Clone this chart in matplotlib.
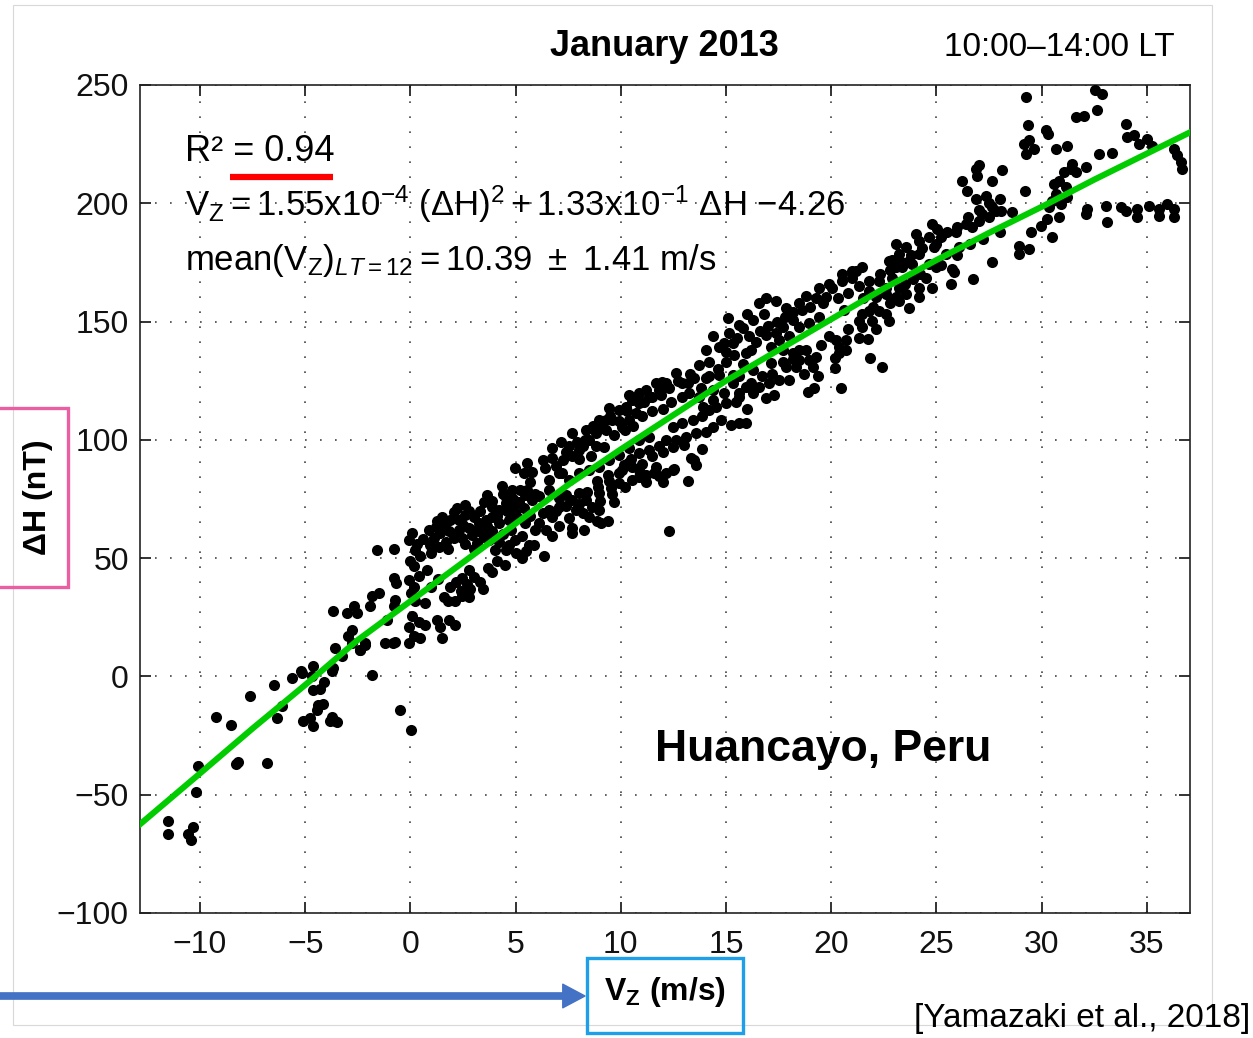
import numpy as np
import matplotlib
matplotlib.use("Agg")
import matplotlib.pyplot as plt
from matplotlib.patches import Rectangle, FancyArrowPatch

plt.rcParams['font.family'] = ['Liberation Sans', 'DejaVu Sans']
plt.rcParams['mathtext.fontset'] = 'custom'
plt.rcParams['mathtext.rm'] = 'Liberation Sans'
plt.rcParams['mathtext.it'] = 'Liberation Sans:italic'
plt.rcParams['mathtext.bf'] = 'Liberation Sans:bold'

# ---- data: (Vz [m/s], dH [nT]) ----
pts_low = [(-11.51, -61), (-11.51, -66.6), (-10.35, -63.7), (-10.55, -66.6), (-10.44, -69),
           (-10.17, -49), (-10.08, -38), (-9.22, -17.3), (-8.54, -20.6), (-8.29, -36.9),
           (-8.18, -36.3), (-6.83, -36.5), (-7.61, -8.2), (-6.48, -3.5), (-6.12, -12.3),
           (-6.34, -17.5), (-5.64, -0.8), (-5.21, 2.1), (-5.13, 1.4), (-4.61, 4.2),
           (-4.69, 0.3), (-4.12, -2.4), (-4.29, -5.4), (-4.61, -5.9), (-4.37, -12),
           (-4.14, -11.5), (-4.45, -14.1), (-5.09, -18.7), (-4.77, -17.6), (-4.61, -20.8),
           (-3.82, -19), (-3.58, -19), (-3.74, -17.2), (-3.47, -19.4), (-1.84, 0.8),
           (-3.74, 2.1), (-3.66, 3.5), (-3.26, 8.5), (-3.58, 12), (-2.39, 11),
           (-2.16, 13.4), (-2.79, 14.1), (-0.81, 14.1), (-0.49, -14.1), (0.02, -22.8),
           (-3.66, 27.5), (-3.03, 27), (-2.66, 29.6), (-2.55, 26.8), (-2.79, 19.7),
           (-2.95, 16.9)]

pts_0_6 = [(-1.58, 53.5), (-0.79, 54), (-0.08, 57.7), (0.08, 60.6), (0.24, 53.5), (0.48, 51),
           (0, 49), (0.16, 46.5), (-0.79, 41.5), (-0.68, 39.4), (-0.08, 40.8), (0.16, 38),
           (0.05, 35.2), (0.4, 42.3), (0.79, 45), (-1.82, 34), (-1.9, 29.6), (-1.5, 35.2),
           (-0.71, 32.4), (-0.79, 29.6), (0.71, 31), (1.58, 33.5), (1.79, 31.7), (2.14, 31.7),
           (2.46, 33.8), (2.77, 33.5), (2.17, 40.1), (2.46, 41.5), (2.69, 39.2), (2.85, 36.9),
           (3.44, 36.9), (3.69, 45.8), (0.08, 25.4), (0.4, 22.8), (0.71, 21.8), (-0.08, 21.1),
           (0.16, 16.9), (0.48, 16.2), (-0.08, 14.1), (-0.71, 14.4), (-1.19, 14.1), (-2.14, 14.1),
           (-2.38, 11.3), (1.27, 23.7), (1.43, 21.1), (1.82, 23.9), (2.14, 21.8), (1.5, 16.2),
           (1.27, 65.5), (1.5, 67.6), (2.06, 69.7), (2.3, 66.2), (2.61, 68.3), (3.01, 67.6),
           (3.25, 64.8), (2.77, 62.7), (2.3, 62), (1.82, 61.3), (1.43, 60.6), (1.11, 58.5),
           (0.95, 55.6), (1.35, 54.9), (1.7, 57), (2.06, 58.5), (2.46, 58.5), (2.93, 59.9),
           (3.41, 60.6), (3.65, 63.4), (3.88, 67.6), (4.2, 70.4), (4.52, 73.2), (4.87, 71.5),
           (5.15, 73.9), (5.47, 76.8), (5.78, 74.6), (5.39, 85.9), (5.78, 86.6), (4.36, 80.3),
           (4.83, 78.6), (4.52, 75.8), (3.88, 71.8), (3.49, 73.9), (3.65, 76.8), (2.61, 72.5),
           (5.55, 78.9), (4.99, 69), (4.68, 66.2), (4.2, 64.8), (3.88, 61.3), (3.17, 56.3),
           (3.72, 57.7), (4.2, 57), (4.68, 55.6), (4.99, 57.7), (5.31, 59.2), (5.63, 55.6),
           (5.86, 55.6), (5.31, 50), (4.52, 53.5), (4.04, 53.5), (5.94, 62), (5.47, 64.8),
           (5.52, 90.1), (4.97, 88),
           (0.3, 56), (0.6, 58), (0.9, 62), (1.0, 52), (1.2, 63), (1.6, 64), (1.9, 66), (2.2, 71),
           (2.5, 64), (2.8, 70), (3.1, 62), (3.3, 70), (3.6, 66), (3.9, 74), (4.1, 68), (4.4, 77),
           (4.6, 70), (4.9, 75), (5.2, 79), (5.4, 71), (5.7, 82), (5.9, 77), (1.8, 54), (2.6, 56),
           (3.0, 54), (3.5, 59), (4.4, 60), (4.8, 62), (5.1, 67), (5.7, 68),
           (1.0, 38), (1.3, 41), (1.9, 38), (2.4, 36), (3.0, 42), (3.3, 40), (3.9, 44), (4.1, 49),
           (4.5, 47), (5.0, 52), (5.5, 53), (2.8, 45), (0.2, 32), (-1.1, 24)]

pts_6_14 = [(6.35, 50.7), (12.3, 61.5), (13.2, 82.4), (13.33, 92.3), (13.49, 91.3), (13.57, 89.4),
            (13.84, 96.2), (12.54, 87.6), (12.14, 85.9), (11.82, 84.8), (11.58, 85.9), (11.19, 85.2),
            (10.87, 87.3), (10.55, 88.7), (10.16, 89.4), (9.92, 81.7), (9.52, 79.6), (8.97, 77.5),
            (9.68, 73.9), (8.89, 65.5), (9.37, 65.5), (9.05, 64.8), (8.26, 62), (7.7, 62.7),
            (7.07, 63.4), (6.43, 62), (7.54, 66.9), (8.18, 69), (8.65, 71.8), (6.75, 67.6),
            (6.59, 70.4), (7.07, 71.8), (6.28, 69), (7.7, 74.6), (8.34, 74.6), (8.02, 77.5),
            (7.39, 76.8), (8.89, 82.4), (9.45, 82.4), (10.08, 87.3), (10.32, 90.1), (10.87, 94.4),
            (11.35, 95.8), (11.82, 97.2), (12.14, 100), (12.62, 100), (13.09, 101.4), (13.57, 102.8),
            (14.04, 103.5), (14.36, 105.6), (14.75, 108.5), (15.23, 106.3), (15.63, 107), (15.94, 107),
            (12.46, 105.6), (12.93, 107), (13.41, 108.5), (13.88, 109.9), (14.2, 112.7), (14.52, 114.1),
            (14.99, 115.5), (15.47, 116.2), (15.63, 118.3), (16.26, 119.7), (15.94, 122.5), (15.31, 123.9),
            (14.36, 121.1), (13.72, 118.3), (13.25, 119.7), (12.93, 123.9), (12.62, 128.2), (12.14, 123.9),
            (11.82, 121.1), (11.35, 118.3), (10.87, 115.5), (10.71, 111.3), (10.4, 108.5), (10.08, 105.6),
            (6.28, 91.5), (6.75, 92.3), (7.23, 91.5), (7.7, 93), (8.18, 97.2), (8.5, 100),
            (8.81, 102.8), (9.29, 104.2), (9.6, 108.5), (9.92, 112.7), (10.24, 114.1), (10.55, 116.9),
            (10.87, 119.7), (11.19, 121.1), (11.66, 123.9), (11.98, 124.6), (7.7, 102.8), (7.15, 99.3),
            (6.75, 96.5), (8.97, 108.5), (9.45, 113.4), (10.4, 119), (9.29, 108.5), (8.34, 104.2),
            (8.81, 97.2), (8.02, 95.8), (7.54, 97.2), (6.59, 83.1), (7.07, 85.9), (8.02, 85.9),
            (7.54, 83.1), (8.5, 87.3), (8.97, 88.7), (9.45, 91.5), (9.92, 93.7), (10.4, 96.5),
            (10.87, 100), (11.35, 101.4), (10.55, 83.1), (10.87, 84.5), (11.66, 88.7), (12.46, 87.3),
            (6.12, 76.1), (6.59, 78.9), (7.07, 75.4), (7.86, 70.4), (8.5, 67.6), (8.97, 70.4),
            (6.12, 64.8), (6.75, 59.2), (7.7, 60.6),
            (6.4, 88), (6.9, 89), (7.4, 95), (7.9, 99), (8.3, 100), (8.7, 106), (9.1, 105), (9.5, 110),
            (9.9, 108), (10.3, 112), (10.7, 117), (11.1, 116), (11.5, 118), (11.9, 119), (12.3, 122),
            (12.7, 125), (7.2, 86), (8.0, 92), (8.6, 93), (9.2, 97), (9.7, 102), (10.2, 104),
            (10.6, 106), (11.0, 110), (11.5, 112), (12.0, 113), (12.4, 116), (12.9, 118), (13.2, 124),
            (13.5, 126), (6.9, 70), (7.4, 72), (8.0, 73), (8.4, 78), (8.9, 80), (9.4, 85), (9.9, 86),
            (10.5, 92), (11.0, 90), (11.5, 93), (12.0, 95), (12.5, 97), (13.0, 98), (9.0, 74),
            (9.6, 77), (10.2, 80), (11.2, 82), (12.0, 82)]

pts_14_20 = [(20.47, 121.8), (22.42, 131), (21.85, 134.5), (21.74, 142.5), (20.2, 130.3), (20.2, 134.5),
             (20.39, 136.6), (20.71, 138), (20.23, 142.3), (20.71, 142.3), (20.39, 139.4), (19.2, 121.8),
             (18.88, 120.4), (19.36, 126.8), (19.12, 131), (18.96, 133.8), (18.8, 138), (19.28, 135.2),
             (18.49, 133.8), (18.17, 136.6), (18.33, 131), (17.85, 131), (17.69, 138), (18.49, 138),
             (17.54, 125.4), (18.01, 125.4), (17.06, 124), (16.9, 117.6), (16.58, 122.5),
             (15.08, 151.4), (15.63, 148.6), (16.27, 150.7), (16.58, 157.7), (16.9, 159.9), (17.38, 158.5),
             (17.85, 155.6), (18.49, 157.7), (18.8, 160.6), (19.28, 159.9), (14.37, 143.7), (14.68, 139.4),
             (14.05, 138), (15.16, 145.1), (15.79, 147.2), (15.32, 140.8), (16.11, 143.7), (16.43, 141.5),
             (15.95, 136.6), (16.9, 144.4), (17.38, 145.1), (17.14, 139.4), (17.69, 147.9), (18.17, 150.7),
             (18.49, 147.9), (18.01, 143.7), (17.54, 142.3), (18.96, 149.3), (19.44, 152.1), (13.73, 131.7),
             (14.21, 133.1), (15, 133.1), (14.68, 127.5), (14.05, 126.1), (15.32, 127.5), (15.63, 126.8),
             (16.27, 129.6), (17.14, 132.4),
             (13.3, 128), (13.8, 122), (14.2, 127), (14.6, 130), (15.0, 137), (15.4, 136), (15.8, 132),
             (16.2, 138), (16.6, 146), (17.0, 148), (17.4, 150), (17.8, 152), (18.2, 154), (18.6, 155),
             (19.0, 156), (19.6, 158), (16.0, 153), (16.8, 153), (15.5, 143), (14.9, 141),
             (13.9, 114), (14.4, 117), (14.9, 120), (15.6, 120), (16.2, 124), (16.7, 127), (17.2, 128),
             (17.7, 133), (18.2, 134), (18.7, 128), (19.5, 140), (19.9, 144), (17.3, 119), (16.0, 113)]

pts_20_37 = [(29.27, 244.9), (29.35, 232.9), (29.16, 225.1), (29.4, 226.6), (29.24, 220.9), (29.64, 223),
             (30.19, 230.8), (30.32, 229.1), (30.7, 223), (31.22, 224.2), (31.62, 236.4), (32.01, 236.7),
             (32.54, 247.7), (32.88, 246), (32.61, 239.3), (34, 233.6), (34.07, 228), (34.39, 228.7),
             (34.63, 225.1), (35.02, 227.3), (35.26, 224.4), (32.73, 220.9), (33.33, 221.2), (36.29, 223),
             (36.45, 220.2), (36.61, 217.4), (36.69, 214.5), (32.09, 215.3), (31.46, 216.7), (31.38, 214.5),
             (31.62, 213.1), (31.06, 213.1), (30.82, 209.6), (30.59, 208.2), (31.14, 206.8), (31.22, 202.5),
             (30.9, 199.7), (30.51, 201.1), (30.67, 204), (30.35, 198.3), (30.82, 194.1), (30.27, 193.4),
             (29.95, 190.5), (30.51, 185.6), (29.48, 187.7), (29.4, 180.6), (28.92, 182), (28.92, 178.5),
             (29.19, 205.4), (32.17, 197.6), (32.09, 195.5), (33.04, 199), (33.12, 192), (33.76, 198.3),
             (33.99, 196.9), (34.55, 197.6), (34.55, 194.1), (35.1, 199), (35.58, 197.6), (35.58, 194.8),
             (35.98, 199.7), (36.29, 197.6), (36.29, 194.1), (26.23, 209.6), (26.47, 205.4), (26.86, 201.8),
             (27.34, 203.2), (26.94, 211.7), (27.02, 216), (26.86, 214.5), (27.65, 209.6), (28.1, 214.1),
             (24.8, 191.2), (25.04, 189.1), (25.28, 187), (25.91, 187.7), (26.39, 191.2), (26.7, 189.8),
             (27.02, 192.7), (27.18, 195.5), (27.5, 194.1), (27.81, 196.9), (28.05, 196.9), (27.65, 198.3),
             (28.61, 196.2), (27.65, 175), (26.75, 167.9), (25.67, 165.8), (25.83, 170.8), (25.75, 172.2),
             (26.07, 181.4), (25.44, 178.5), (24.88, 181.4), (25.2, 185.6), (24.64, 185.6), (24.17, 184.2),
             (24.01, 187), (24.64, 174.3), (24.96, 172.9), (24.48, 168.6), (24.8, 164.4), (24.17, 160.2),
             (23.69, 155.9), (23.22, 158.8), (24.17, 164.4), (23.06, 182.8), (23.22, 178.5), (23.53, 181.4),
             (23.69, 175.7), (23.38, 172.9), (23.85, 174.3), (24.17, 178.5), (23.06, 172.9), (22.74, 175.7),
             (22.9, 168.6), (23.22, 164.4), (22.58, 164.4), (22.27, 167.2), (21.79, 167.2), (21.47, 172.9),
             (21, 171.5), (20.52, 167.2), (20.05, 164.4), (19.73, 160.2), (21.47, 153.1), (21.79, 154.5),
             (22.11, 160.2), (22.58, 161.6), (21.32, 150.3), (21.95, 150.3), (22.27, 154.5), (22.74, 150.3),
             (23.06, 160.2), (23.53, 161.6), (21.47, 147.5), (22.11, 146.8), (22.58, 153.1), (19.41, 164.4),
             (19.89, 165.8), (20.52, 170.1), (21, 168.6), (21.16, 171.5),
             (20.3, 160), (20.8, 162), (21.3, 165), (21.8, 163), (22.3, 170), (22.8, 172), (23.3, 175),
             (23.8, 178), (24.3, 181), (25.0, 183), (25.5, 188), (26.0, 190), (26.5, 194), (27.0, 197),
             (27.5, 200), (28.0, 202), (20.6, 155), (21.5, 160), (22.9, 176),
             (20.8, 147), (21.3, 143), (22.0, 156), (22.8, 158), (23.5, 166), (24.2, 170), (25.2, 174),
             (26.0, 178), (26.6, 183), (27.2, 185), (28.0, 188), (23.9, 168)]

# green fit curve
fit_vz = [-12.85, -10, -7.5, -5, -2.5, 0, 2.5, 5, 7.5, 10, 12.5, 15, 17.5, 20, 22.5, 25, 27.5, 30, 32.5, 35, 37.05]
fit_dh = [-62.5, -41, -22, -3.6, 15.4, 31.8, 48.2, 64.6, 81, 96, 110.5, 125, 138, 151, 164, 176, 187.5, 198.5, 210, 221, 230]

xticks = [-10, -5, 0, 5, 10, 15, 20, 25, 30, 35]
yticks = [-100, -50, 0, 50, 100, 150, 200, 250]

pts = np.array(pts_low + pts_0_6 + pts_6_14 + pts_14_20 + pts_20_37)

W, H = 1253, 1038
fig = plt.figure(figsize=(W / 100, H / 100), dpi=100)
ax = fig.add_axes([140 / W, 1 - 913 / H, 1050 / W, 828 / H])

ax.plot(pts[:, 0], pts[:, 1], 'o', color='black', ms=8, mew=0, zorder=3)
ax.plot(fit_vz, fit_dh, color='#00cc00', lw=4.4, zorder=4)

ax.set_xlim(-12.85, 37.05)
ax.set_ylim(-100, 250)
ax.set_xticks(xticks)
ax.set_yticks(yticks)
ax.tick_params(direction='in', length=8, width=1.2, top=True, right=True,
               labelsize=23, colors='#111111')
ax.tick_params(axis='x', pad=12)
ax.tick_params(axis='y', pad=8)
ax.grid(True, linestyle=(0, (1, 8)), color='#444444', lw=1.2)
ax.set_axisbelow(True)
for s in ax.spines.values():
    s.set_linewidth(1.2)
    s.set_color('#222222')

# annotations inside the axes
ax.text(0.0429, 0.908, 'R² = 0.94', transform=ax.transAxes, fontsize=26, va='baseline')
ax.plot([0.0857, 0.1838], [0.889, 0.889], transform=ax.transAxes, color='#ff0000', lw=4.5,
        solid_capstyle='butt', zorder=5)
ax.text(0.0429, 0.842,
        r'$\mathrm{V_Z = 1.55x10^{-4}\ (\Delta H)^2 + 1.33x10^{-1}\ \Delta H\ {-}4.26}$',
        transform=ax.transAxes, fontsize=25, va='baseline')
ax.text(0.0429, 0.777,
        r'$\mathrm{mean(V_Z)}_{\mathit{LT=12}}\mathrm{= 10.39\ \pm\ 1.41\ m/s}$',
        transform=ax.transAxes, fontsize=25, va='baseline')
ax.text(0.4905, 0.197, 'Huancayo, Peru', transform=ax.transAxes, fontsize=32,
        fontweight='bold', va='center', ha='left')

# titles and labels
fig.text(664 / W, 1 - 46 / H, 'January 2013', ha='center', va='center', fontsize=26, fontweight='bold')
fig.text(1175 / W, 1 - 47 / H, '10:00–14:00 LT', ha='right', va='center', fontsize=24)
fig.text(38 / W, 1 - 497 / H, 'ΔH (nT)', rotation=90, ha='center', va='center',
         fontsize=23, fontweight='bold')
fig.text(665 / W, 1 - 992 / H, r'$\mathbf{V_Z\ (m/s)}$', ha='center', va='center', fontsize=23)
fig.text(1250 / W, 1 - 1018 / H, '[Yamazaki et al., 2018]', ha='right', va='center', fontsize=24)

# decoration boxes and arrow
fig.add_artist(Rectangle((13 / W, 1 - 1025 / H), 1199 / W, 1020 / H, transform=fig.transFigure,
                         fill=False, ec='#d8d8d8', lw=0.8))
fig.add_artist(Rectangle((-0.01, 1 - 587 / H), 0.01 + 68 / W, 179 / H, transform=fig.transFigure,
                         fill=False, ec='#ea5fa2', lw=2.4))
fig.add_artist(Rectangle((587 / W, 1 - 1033 / H), 156 / W, 75 / H, transform=fig.transFigure,
                         fill=False, ec='#1e9fe8', lw=2.4))
fig.add_artist(FancyArrowPatch((-0.01, 1 - 996 / H), (585 / W, 1 - 996 / H), transform=fig.transFigure,
                               arrowstyle='simple,head_length=1.6,head_width=1.7,tail_width=0.45',
                               mutation_scale=10, color='#4472c4', shrinkA=0, shrinkB=0))

fig.savefig('out.png', dpi=100)
